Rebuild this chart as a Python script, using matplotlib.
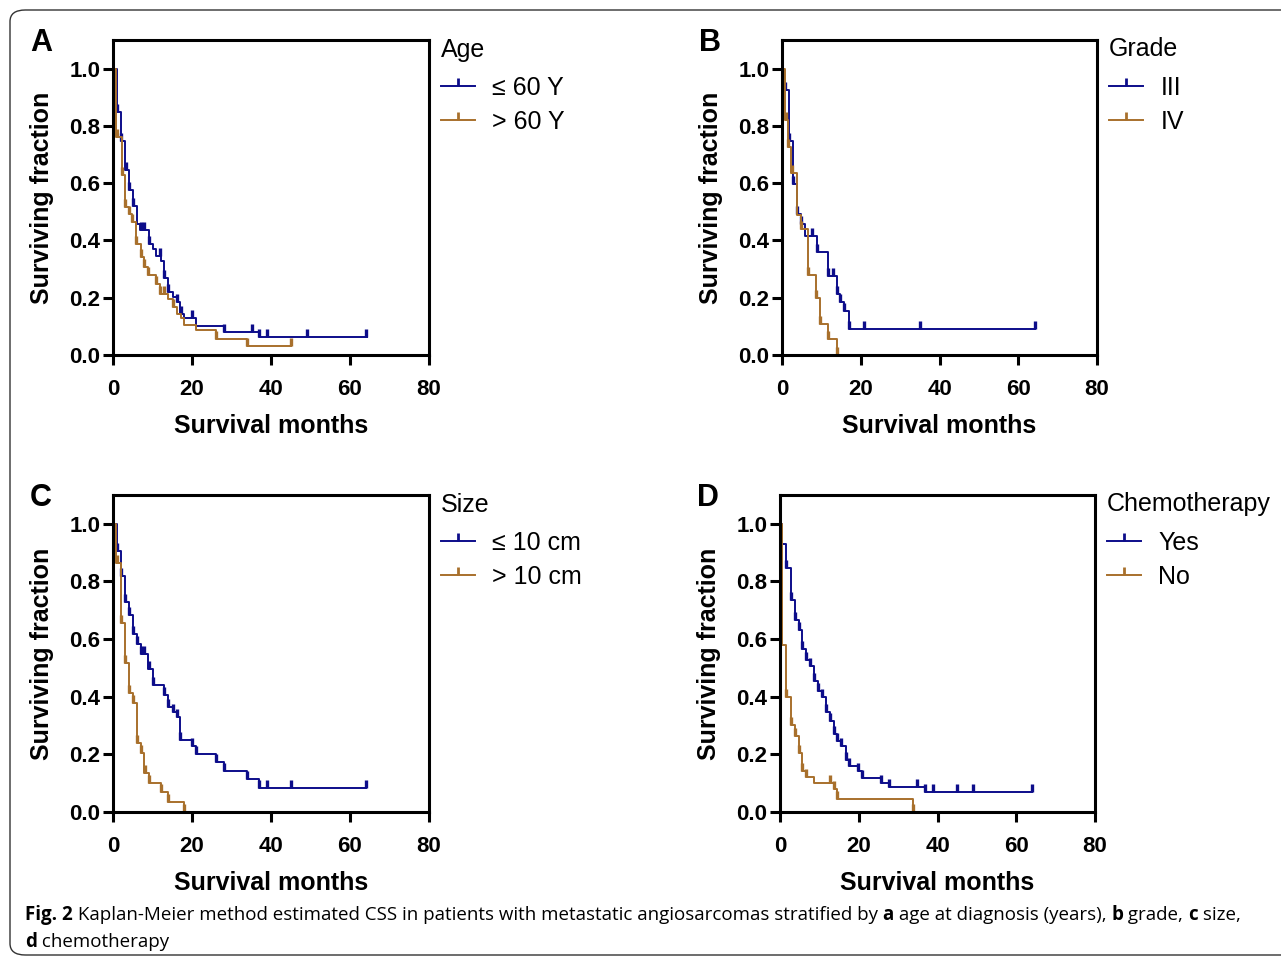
import numpy as np
import matplotlib.pyplot as plt
from matplotlib.lines import Line2D
from matplotlib.patches import FancyBboxPatch

plt.rcParams['font.family'] = ['Liberation Sans', 'DejaVu Sans']

BLUE = '#0d0d8a'
ORANGE = '#a8702c'

# ---- Kaplan-Meier data (months, surviving fraction) ----
# panel A: age
a_le60_t = [0.9, 2.0, 3.0, 4.1, 5.0, 6.0, 6.8, 9.1, 10.0, 10.9, 12.1, 13.0, 14.0, 15.1, 16.1, 17.0, 18.0, 21.0, 28.1, 37.0]
a_le60_s = [0.848, 0.749, 0.647, 0.577, 0.520, 0.458, 0.435, 0.386, 0.371, 0.344, 0.328, 0.270, 0.220, 0.202, 0.185, 0.144, 0.130, 0.100, 0.080, 0.063]
a_le60_end = 64.2
a_le60_c = [0.9, 2.0, 3.2, 4.1, 5.1, 7.0, 7.9, 9.1, 11.9, 13.0, 14.0, 16.1, 17.1, 20.0, 28.1, 35.1, 37.0, 38.9, 49.0, 64.0]

a_gt60_t = [0.7, 2.2, 3.0, 4.0, 4.9, 5.8, 7.0, 7.9, 8.9, 10.9, 11.9, 14.0, 15.1, 16.1, 17.1, 18.0, 21.0, 26.0, 33.8]
a_gt60_s = [0.761, 0.627, 0.517, 0.493, 0.464, 0.389, 0.342, 0.307, 0.278, 0.249, 0.214, 0.197, 0.168, 0.144, 0.130, 0.104, 0.086, 0.057, 0.030]
a_gt60_end = 45.1
a_gt60_c = [0.9, 2.2, 3.0, 4.0, 4.9, 5.8, 7.0, 7.9, 8.9, 10.9, 11.9, 12.9, 15.1, 26.0, 33.8, 45.1]

# panel B: grade
b_g3_t = [0.5, 1.8, 2.8, 3.7, 4.8, 5.8, 8.9, 11.8, 13.9, 14.7, 15.8, 16.9]
b_g3_s = [0.926, 0.749, 0.598, 0.493, 0.458, 0.414, 0.358, 0.277, 0.214, 0.185, 0.154, 0.092]
b_g3_end = 64.2
b_g3_c = [0.8, 1.8, 2.8, 3.7, 4.8, 7.7, 8.9, 11.8, 12.9, 13.9, 14.7, 15.8, 16.9, 20.9, 35.0, 64.2]

b_g4_t = [0.7, 1.5, 2.4, 3.7, 4.8, 6.6, 8.6, 9.7, 11.8, 14.0]
b_g4_s = [0.819, 0.728, 0.635, 0.49, 0.441, 0.278, 0.20, 0.107, 0.055, 0.0]
b_g4_end = 14.0
b_g4_c = [0.9, 1.6, 2.6, 4.9, 6.6, 8.6, 9.7, 11.8, 14.0]

# panel C: size
c_le10_t = [0.9, 2.0, 3.0, 4.1, 5.0, 6.0, 7.0, 8.9, 10.0, 13.0, 14.0, 15.1, 16.1, 17.0, 19.9, 21.0, 26.1, 28.1, 34.0, 37.0]
c_le10_s = [0.904, 0.819, 0.728, 0.682, 0.616, 0.582, 0.547, 0.497, 0.441, 0.406, 0.366, 0.347, 0.330, 0.251, 0.228, 0.201, 0.172, 0.144, 0.113, 0.084]
c_le10_end = 64.0
c_le10_c = [1.1, 2.0, 3.0, 4.1, 5.0, 6.0, 7.0, 7.9, 9.1, 10.0, 13.0, 14.0, 15.1, 16.1, 17.0, 19.9, 21.0, 26.1, 28.1, 34.0, 37.0, 38.9, 45.0, 64.0]

c_gt10_t = [0.7, 2.0, 3.0, 4.1, 5.0, 6.0, 7.0, 7.9, 9.1, 12.1, 14.0, 18.0]
c_gt10_s = [0.864, 0.657, 0.516, 0.413, 0.378, 0.240, 0.205, 0.135, 0.099, 0.068, 0.033, 0.0]
c_gt10_end = 18.0
c_gt10_c = [0.9, 2.0, 3.0, 4.1, 5.0, 6.0, 7.0, 8.1, 9.1, 12.1, 14.0, 18.0]

# panel D: chemotherapy
d_yes_t = [0.6, 1.6, 2.7, 3.7, 4.7, 5.7, 6.7, 7.6, 8.7, 9.7, 10.6, 11.6, 12.6, 13.6, 14.6, 15.6, 16.7, 17.6, 19.7, 20.7, 25.6, 27.8, 36.7]
d_yes_s = [0.930, 0.848, 0.737, 0.667, 0.632, 0.567, 0.529, 0.506, 0.453, 0.421, 0.400, 0.347, 0.316, 0.269, 0.246, 0.228, 0.181, 0.158, 0.144, 0.117, 0.101, 0.088, 0.069]
d_yes_end = 64.0
d_yes_c = [1.6, 2.7, 3.7, 4.7, 5.7, 6.7, 7.6, 8.7, 9.7, 10.6, 11.6, 12.6, 13.6, 14.6, 15.6, 16.7, 17.6, 19.7, 20.7, 25.6, 27.8, 34.7, 36.7, 38.8, 44.9, 49.0, 64.0]

d_no_t = [0.6, 1.6, 2.7, 3.7, 4.7, 5.7, 6.7, 8.7, 13.6, 14.6, 33.9]
d_no_s = [0.581, 0.399, 0.303, 0.265, 0.206, 0.144, 0.123, 0.101, 0.081, 0.046, 0.0]
d_no_end = 33.9
d_no_c = [1.6, 2.7, 3.7, 4.7, 5.7, 6.7, 12.6, 13.6, 14.6, 33.9]

panels = [
    ('A', 'Age', ['\u2264 60 Y', '> 60 Y'],
     [(a_le60_t, a_le60_s, a_le60_end, a_le60_c), (a_gt60_t, a_gt60_s, a_gt60_end, a_gt60_c)]),
    ('B', 'Grade', ['III', 'IV'],
     [(b_g3_t, b_g3_s, b_g3_end, b_g3_c), (b_g4_t, b_g4_s, b_g4_end, b_g4_c)]),
    ('C', 'Size', ['\u2264 10 cm', '> 10 cm'],
     [(c_le10_t, c_le10_s, c_le10_end, c_le10_c), (c_gt10_t, c_gt10_s, c_gt10_end, c_gt10_c)]),
    ('D', 'Chemotherapy', ['Yes', 'No'],
     [(d_yes_t, d_yes_s, d_yes_end, d_yes_c), (d_no_t, d_no_s, d_no_end, d_no_c)]),
]

# axes boxes in pixels: left, top, right, bottom
W, H = 1281, 960
boxes = {'A': (113, 40, 429, 355), 'B': (782, 40, 1097, 355),
         'C': (113, 495, 429, 812), 'D': (780, 495, 1095, 812)}

fig = plt.figure(figsize=(W / 100, H / 100), dpi=100)

# rounded outer frame
frame = FancyBboxPatch((10 / W, 5 / H), 1.2, 945 / H, boxstyle='round,pad=0,rounding_size=0.012',
                       transform=fig.transFigure, fill=False, ec='#333333', lw=1.0)
fig.patches.append(frame)

for letter, title, labels, curves in panels:
    l, t, r, b = boxes[letter]
    ax = fig.add_axes([l / W, 1 - b / H, (r - l) / W, (b - t) / H])
    for (tt, ss, end, cc), col in zip(curves, [BLUE, ORANGE]):
        tt = np.array(tt)
        ss = np.array(ss)
        x = np.concatenate([[0], tt, [end]])
        y = np.concatenate([[1.0], ss, [ss[-1]]])
        ax.step(x, y, where='post', color=col, lw=1.4, clip_on=False)
        cc = np.array(cc)
        idx = np.searchsorted(tt, cc, side='right')
        cy = np.concatenate([[1.0], ss])[idx]
        ax.plot(cc, cy, ls='none', marker=2, ms=5.5, mew=2.4, color=col)

    ax.set_xlim(0, 80)
    ax.set_ylim(0, 1.1)
    ax.set_xticks([0, 20, 40, 60, 80])
    ax.set_yticks([0, 0.2, 0.4, 0.6, 0.8, 1.0])
    ax.set_yticklabels(['0.0', '0.2', '0.4', '0.6', '0.8', '1.0'])
    for sp in ax.spines.values():
        sp.set_linewidth(2.2)
    ax.tick_params(direction='out', length=7, width=2.2, labelsize=16)
    ax.tick_params(axis='x', pad=10)
    ax.tick_params(axis='y', pad=2)
    for lab in ax.get_xticklabels() + ax.get_yticklabels():
        lab.set_fontweight('bold')
    ax.set_xlabel('Survival months', fontsize=18, fontweight='bold', labelpad=10)
    ax.set_ylabel('Surviving fraction', fontsize=18, fontweight='bold', labelpad=11)

    handles = [Line2D([0], [0], color=c, lw=1.4, marker=2, ms=6, mew=2) for c in [BLUE, ORANGE]]
    hpx = b - t
    leg = ax.legend(handles, labels, title=title, loc='upper left',
                    bbox_to_anchor=(0.983 - 3.75 / (r - l), 1 + 23.75 / hpx), frameon=False,
                    fontsize=18, title_fontsize=18,
                    handlelength=1.35, handletextpad=0.7, labelspacing=0.4, borderpad=0.85,
                    alignment='left', borderaxespad=0)
    leg._legend_box.sep = 10.1  # a bit more room under the legend title

    fig.text((l - 72) / W, 1 - (t + 3) / H, letter, fontsize=22, fontweight='bold',
             ha='center', va='center')

# caption with bold pieces, sized to the reference line width
fig.canvas.draw()
renderer = fig.canvas.get_renderer()
cap_lines = [
    [('Fig. 2', 'bold'), (' Kaplan-Meier method estimated CSS in patients with metastatic angiosarcomas stratified by ', 'normal'),
     ('a', 'bold'), (' age at diagnosis (years), ', 'normal'), ('b', 'bold'), (' grade, ', 'normal'),
     ('c', 'bold'), (' size,', 'normal')],
    [('d', 'bold'), (' chemotherapy', 'normal')],
]
cap_font = ['Open Sans', 'DejaVu Sans']
probe = 0.0
for txt, wt in cap_lines[0]:
    tmp = fig.text(0, 0, txt, fontsize=13, fontweight=wt, family=cap_font)
    probe += tmp.get_window_extent(renderer).width
    tmp.remove()
cap_size = 13 * 1207 / probe

cap_y = [915, 942]
for line, yy in zip(cap_lines, cap_y):
    x = 25
    for txt, wt in line:
        tx = fig.text(x / W, 1 - yy / H, txt, fontsize=cap_size, fontweight=wt, va='center',
                      ha='left', family=cap_font)
        x += tx.get_window_extent(renderer).width

fig.savefig('out.png', dpi=100)
